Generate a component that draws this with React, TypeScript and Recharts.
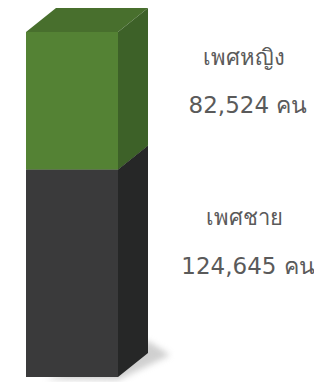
import React from 'react';
import { BarChart, Bar, XAxis, YAxis, LabelList } from 'recharts';

const categories = ['ประชากร'];
const maleValues = [124645];
const femaleValues = [82524];
const seriesNames = { male: 'เพศชาย', female: 'เพศหญิง' };
const unit = 'คน';

const data = categories.map((c, i) => ({ name: c, male: maleValues[i], female: femaleValues[i] }));
const total = maleValues[0] + femaleValues[0];

const DX = 30;
const DY = 24;

function makeShape(front: string, side: string, top: string, withShadow: boolean) {
  return (props: any) => {
    const { x, y, width: w, height: h } = props;
    const frontPts = `${x},${y} ${x + w},${y} ${x + w},${y + h} ${x},${y + h}`;
    const sidePts = `${x + w},${y} ${x + w + DX},${y - DY} ${x + w + DX},${y + h - DY} ${x + w},${y + h}`;
    const topPts = `${x},${y} ${x + DX},${y - DY} ${x + w + DX},${y - DY} ${x + w},${y}`;
    const b = y + h;
    const shadowPts = `${x + 20},${b + 2} ${x + w},${b + 3} ${x + w + DX + 22},${b - DY + 2} ${x + w + DX},${b - DY - 12}`;
    return (
      <g>
        {withShadow && <polygon points={shadowPts} fill="#a0a0a0" opacity={0.5} filter="url(#blur3)" />}
        <polygon points={topPts} fill={top} />
        <polygon points={sidePts} fill={side} />
        <polygon points={frontPts} fill={front} />
      </g>
    );
  };
}

function makeLabel(name: string, nameDy: number, valDy: number) {
  return (props: any) => {
    const { x, y, width, value } = props;
    const cx = x + width + 130;
    return (
      <g>
        <text x={cx - 4} y={y + nameDy} textAnchor="middle" fontSize={22} fill="#5a5a5a" fontFamily="'DejaVu Sans', 'Noto Sans', sans-serif">{name}</text>
        <text x={cx} y={y + valDy} textAnchor="middle" fontSize={23} fill="#5a5a5a" fontFamily="'DejaVu Sans', 'Noto Sans', sans-serif">{`${Number(value).toLocaleString('en-US')} ${unit}`}</text>
      </g>
    );
  };
}

export default function App() {
  return (
    <div style={{ position: 'absolute', left: 0, top: 0, width: 314, height: 382, background: '#ffffff' }}>
      <BarChart width={314} height={382} data={data} margin={{ top: 32, right: 191, bottom: 5, left: 21 }} barCategoryGap={0}>
        <defs>
          <filter id="blur3" x="-50%" y="-50%" width="200%" height="200%">
            <feGaussianBlur stdDeviation="3" />
          </filter>
        </defs>
        <XAxis dataKey="name" hide />
        <YAxis hide domain={[0, total]} />
        <Bar dataKey="male" stackId="a" barSize={92} isAnimationActive={false} shape={makeShape('#3a3a3b', '#262727', '#2e2e2f', true)}>
          <LabelList dataKey="male" content={makeLabel(seriesNames.male, 56, 105)} />
        </Bar>
        <Bar dataKey="female" stackId="a" barSize={92} isAnimationActive={false} shape={makeShape('#548234', '#3d6128', '#486f2d', false)}>
          <LabelList dataKey="female" content={makeLabel(seriesNames.female, 33, 81)} />
        </Bar>
      </BarChart>
    </div>
  );
}
